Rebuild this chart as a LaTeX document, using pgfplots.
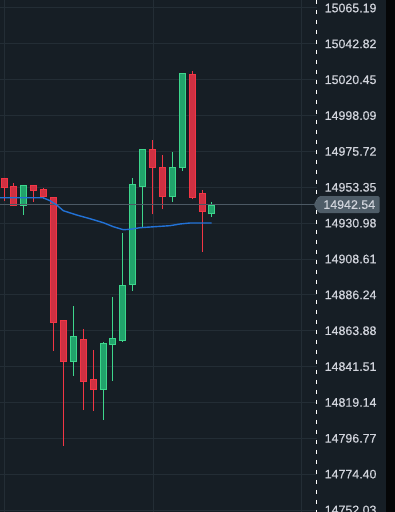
\documentclass[border=0pt]{standalone}
\usepackage{pgfplots}
\pgfplotsset{compat=1.18}
\usepackage{fontspec}
\setmainfont{Liberation Sans}
\newfontfamily\labfont{Liberation Sans}[FakeBold=0.35]
\definecolor{bg}{HTML}{161E25}
\definecolor{stripc}{HTML}{050607}
\definecolor{gridc}{HTML}{232D35}
\definecolor{labc}{HTML}{D1D4DC}
\definecolor{upline}{HTML}{3DD68C}
\definecolor{upfill}{HTML}{21A36B}
\definecolor{dnline}{HTML}{F23645}
\definecolor{dnfill}{HTML}{CF3042}
\definecolor{mac}{HTML}{2272D6}
\definecolor{pricec}{HTML}{4C5964}
\definecolor{boxc}{HTML}{4F5D68}
\newcommand{\candle}[6]{%
  \addplot[#6line, line width=1pt, forget plot] coordinates {(#1,#4) (#1,#3)};
  \addplot[#6line, line width=7pt, forget plot] coordinates {(#1,#2) (#1,#5)};
  \addplot[#6fill, line width=5pt, shorten <=1pt, shorten >=1pt, forget plot] coordinates {(#1,#2) (#1,#5)};
}
\begin{document}
\begin{tikzpicture}
\fill[bg] (0pt,0pt) rectangle (395pt,512pt);
\fill[stripc] (386pt,0pt) rectangle (395pt,512pt);
\begin{axis}[at={(0pt,0pt)}, anchor=south west, scale only axis,
  width=316.7pt, height=512pt,
  xmin=0, xmax=316.7, ymin=14750.79, ymax=15070.18,
  axis line style={draw=none},
  xtick={4.3,153,301.7}, xticklabel=\empty,
  xmajorgrids, ymajorgrids, grid style={gridc, line width=1pt},
  ytick={14752.03,14774.40,14796.77,14819.14,14841.51,14863.88,14886.24,14908.61,14930.98,14953.35,14975.72,14998.09,15020.45,15042.82,15065.19},
  yticklabels={14752.03,14774.40,14796.77,14819.14,14841.51,14863.88,14886.24,14908.61,14930.98,14953.35,14975.72,14998.09,15020.45,15042.82,15065.19},
  yticklabel pos=right, major tick length=0pt,
  yticklabel style={text=labc, font=\labfont\fontsize{12.4}{14}\selectfont, anchor=west, xshift=4.5pt},
  /pgf/number format/assume math mode=true,
  clip=false]
% x, open, high, low, close, colour
\candle{4.3}{14958.96}{14958.96}{14944.98}{14952.72}{dn}
\candle{13.3}{14954.15}{14955.84}{14941.68}{14941.68}{dn}
\candle{23.3}{14941.68}{14954.78}{14936.06}{14954.78}{up}
\candle{33.3}{14954.78}{14954.78}{14944.36}{14951.22}{dn}
\candle{43.3}{14952.09}{14952.91}{14946.04}{14947.10}{dn}
\candle{53.3}{14947.10}{14947.10}{14851.42}{14868.88}{dn}
\candle{63.3}{14870.56}{14870.56}{14792.15}{14844.55}{dn}
\candle{73.3}{14844.55}{14879.30}{14835.63}{14860.58}{up}
\candle{83.3}{14858.52}{14864.95}{14814.42}{14832.08}{dn}
\candle{93.3}{14833.76}{14851.85}{14813.80}{14827.09}{dn}
\candle{103.3}{14827.09}{14856.84}{14808.18}{14856.22}{up}
\candle{112.3}{14855.16}{14884.91}{14832.51}{14859.34}{up}
\candle{122.3}{14857.65}{14925.02}{14857.03}{14892.40}{up}
\candle{132.3}{14892.40}{14958.96}{14888.84}{14955.40}{up}
\candle{142.3}{14953.72}{14977.05}{14927.77}{14977.05}{up}
\candle{152.3}{14977.05}{14982.85}{14936.50}{14965.20}{dn}
\candle{162.3}{14965.82}{14973.49}{14939.62}{14947.10}{dn}
\candle{172.3}{14947.10}{14975.36}{14944.36}{14965.82}{up}
\candle{182.3}{14965.20}{15024.46}{14963.70}{15024.46}{up}
\candle{192.3}{15023.83}{15025.89}{14945.86}{14946.48}{dn}
\candle{202.3}{14949.60}{14951.66}{14913.17}{14937.75}{dn}
\candle{211.3}{14936.50}{14944.17}{14935.00}{14942.12}{up}
% current price line
\addplot[pricec, line width=1pt, forget plot] coordinates {(0,14942.54) (316.7,14942.54)};
% moving average
\addplot[mac, line width=1.4pt, forget plot] coordinates {
 (0,14946.85) (43,14946.85) (50,14944.98) (56.7,14942.30) (63.3,14938.74)
 (76.7,14936.06) (90,14933.75) (103.3,14931.26) (113.3,14928.76) (123.3,14926.89)
 (130,14927.14) (140,14928.14) (170,14929.39) (180,14930.45) (190,14931.07) (211.7,14931.07)};
\coordinate (TR) at (rel axis cs:1,1);
\coordinate (BR) at (rel axis cs:1,0);
\coordinate (P) at (axis cs:316.7,14942.54);
\end{axis}
\draw[white, line width=1pt, dash pattern=on 4pt off 6pt] (TR) -- (BR);
\fill[boxc, rounded corners=1.5pt] (P) ++(-3pt,0pt) -- ++(5pt,8.5pt) -- ++(61pt,0pt) -- ++(0pt,-17pt) -- ++(-61pt,0pt) -- cycle;
\node[anchor=west, text=labc, font=\labfont\fontsize{12.4}{14}\selectfont, inner sep=0pt] at (P) [xshift=6.5pt] {14942.54};
\pgfresetboundingbox
\useasboundingbox (0pt,0pt) rectangle (395pt,512pt);
\end{tikzpicture}
\end{document}
